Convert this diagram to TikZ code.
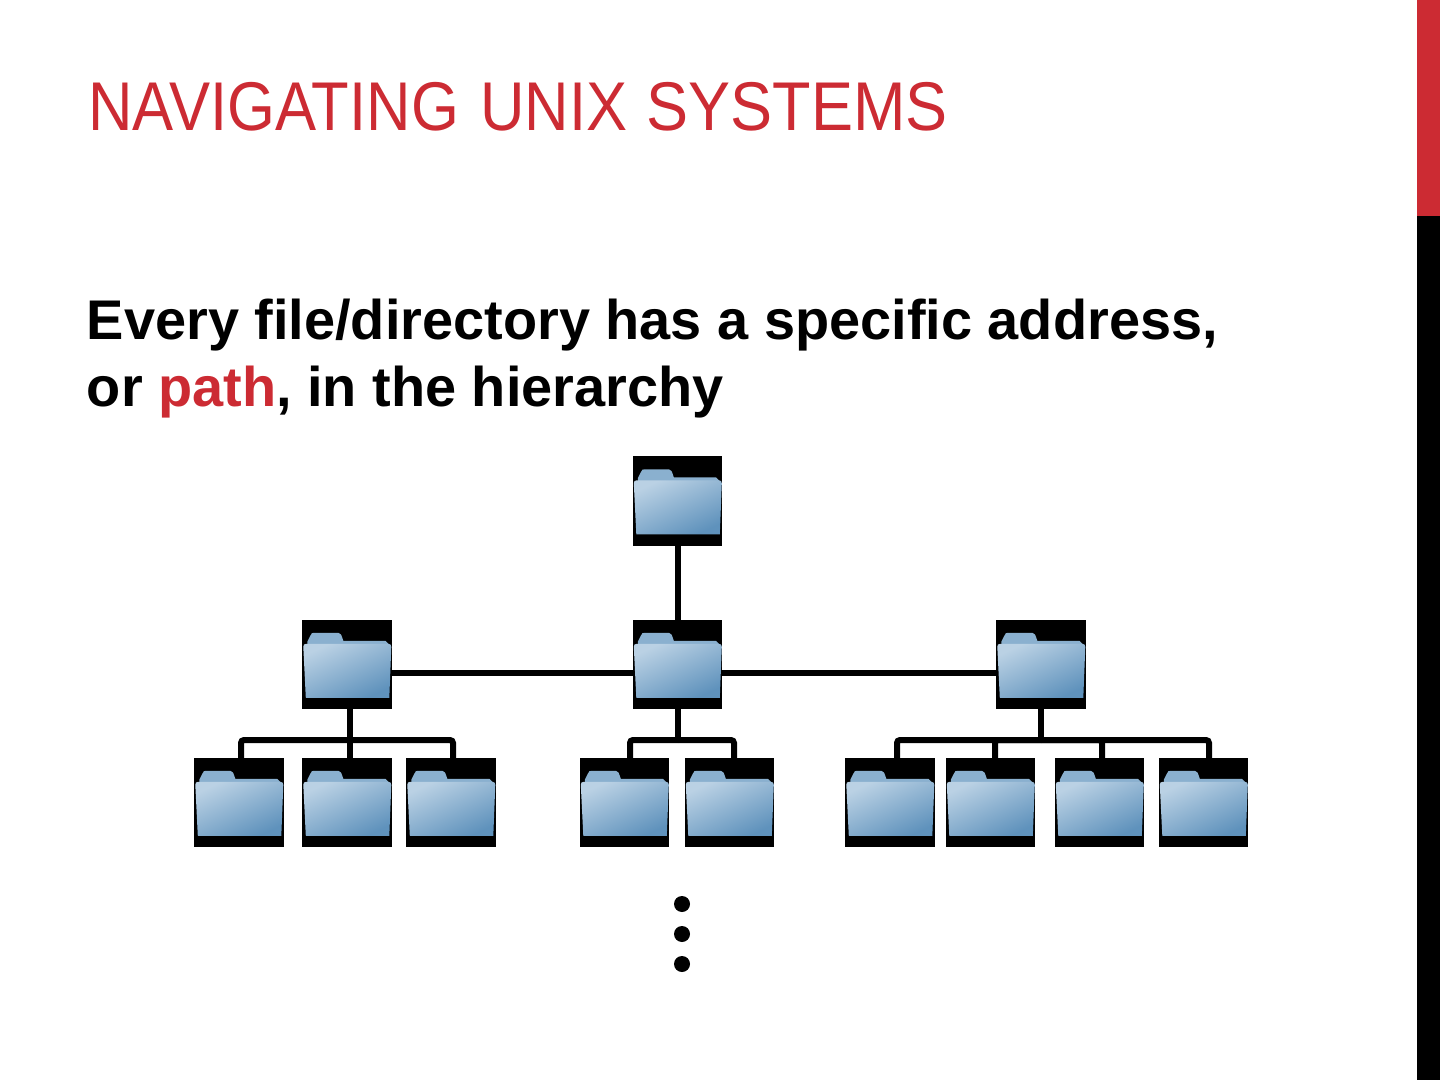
\documentclass[tikz,border=0pt]{standalone}
\usepackage{fontspec}
\setmainfont{Liberation Sans}
\newfontfamily\titlefont[FakeStretch=0.892,WordSpace=1.25]{Liberation Sans}
\newfontfamily\titlewide[FakeStretch=0.913]{Liberation Sans}
\definecolor{accent}{HTML}{CC2B33}
\definecolor{foldertab}{HTML}{8AB0CF}
\definecolor{folderlight}{HTML}{BAD1E4}
\definecolor{folderdark}{HTML}{5F92BC}
\tikzset{
  x=0.5pt,y=-0.5pt,
  conn/.style={draw=black,line width=3pt,rounded corners=1.5pt},
  folderbox/.style={rectangle,fill=black,inner sep=0pt,outer sep=0pt,minimum width=44.7pt,minimum height=44.7pt},
  dotmark/.style={circle,fill=black,inner sep=0pt,minimum size=8pt}
}
\newcommand{\folderat}[3]{%
  \node[folderbox] (#1) at (#2,#3) {};
  \begin{scope}[shift={(#1.north west)}]
    \fill[foldertab] (5,22) -- (8,16) .. controls (9,13) and (10,13) .. (12,13) -- (36,13)
       .. controls (39,13) and (39,16) .. (40,18) -- (41,21) -- (83,21) -- (87,25) -- (87,30) -- (5,30) -- cycle;
    \shade[top color=folderlight,bottom color=folderdark,shading angle=25]
       (1,27) .. controls (1,25) and (2,24) .. (4,24) -- (86,24) .. controls (88,24) and (89,25) .. (89,27)
       -- (87,78) -- (3.5,78) -- cycle;
  \end{scope}}
\begin{document}
\begin{tikzpicture}
\useasboundingbox (0,0) rectangle (1440,1080);
\fill[accent] (1417,0) rectangle (1440,216);
\fill[black] (1417,216) rectangle (1440,1080);
\node[anchor=base west,inner sep=0pt,text=accent,font=\titlefont\fontsize{34.5}{35}\selectfont] (title) at (88,131) {NAVIGATING UNIX \hspace{-1pt}{\titlewide SYSTEMS}};
\node[anchor=base west,inner sep=0pt,font=\bfseries\fontsize{27.95}{28}\selectfont] (line1) at (86.5,340) {Every file/directory has a specific address,};
\node[anchor=base west,inner sep=0pt,font=\bfseries\fontsize{27.95}{28}\selectfont] (line2) at (86.5,407) {or \textcolor{accent}{path}, in the hierarchy};
% folders
\folderat{root}{677.5}{501}
\folderat{la}{347}{664.5}
\folderat{lb}{677.5}{664.5}
\folderat{lc}{1041}{664.5}
\folderat{a1}{239}{802.5}
\folderat{a2}{347}{802.5}
\folderat{a3}{451}{802.5}
\folderat{b1}{624.5}{802.5}
\folderat{b2}{729.5}{802.5}
\folderat{c1}{890}{802.5}
\folderat{c2}{990.5}{802.5}
\folderat{c3}{1099.5}{802.5}
\folderat{c4}{1203.5}{802.5}
% helper coordinates
\coordinate (hbar) at (678,673);
\coordinate (busa) at (350,740);
\coordinate (busb) at (678,740);
\coordinate (busc) at (1041,740);
% connectors
\draw[conn] (root.south) -- (lb.north);
\draw[conn] (la.east |- hbar) -- (lb.west |- hbar);
\draw[conn] (lb.east |- hbar) -- (lc.west |- hbar);
\draw[conn] (busa |- la.south) -- (busa);
\draw[conn] (busb |- lb.south) -- (busb);
\draw[conn] (busc |- lc.south) -- (busc);
\draw[conn] ([xshift=1pt]a1.north) |- (busa);
\draw[conn] ([xshift=1.5pt]a2.north) -- (busa);
\draw[conn] ([xshift=1pt]a3.north) |- (busa);
\draw[conn] ([xshift=2.75pt]b1.north) |- (busb);
\draw[conn] ([xshift=2.25pt]b2.north) |- (busb);
\draw[conn] ([xshift=3.5pt]c1.north) |- (busc);
\draw[conn] ([xshift=2.25pt]c2.north) |- (busc);
\draw[conn] ([xshift=1.25pt]c3.north) |- (busc);
\draw[conn] ([xshift=2.75pt]c4.north) |- (busc);
% dots
\node[dotmark] (d1) at (682,904) {};
\node[dotmark] (d2) at (682,934) {};
\node[dotmark] (d3) at (682,964) {};
\end{tikzpicture}
\end{document}
